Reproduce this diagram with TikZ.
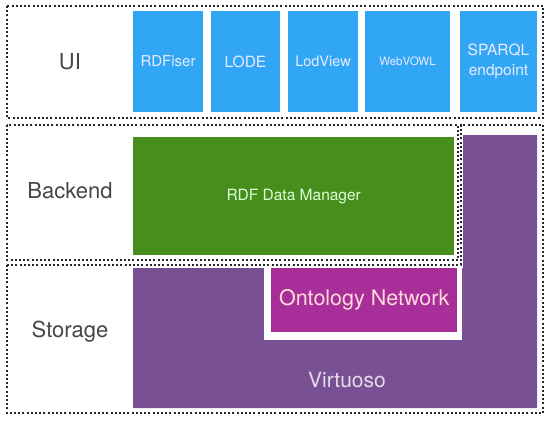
\documentclass[tikz,border=0pt]{standalone}
\usepackage{fontspec}
\setmainfont{TeX Gyre Heros}
\definecolor{uiblue}{RGB}{48,166,244}
\definecolor{bkgreen}{RGB}{72,142,28}
\definecolor{virt}{RGB}{122,80,148}
\definecolor{onto}{RGB}{168,46,154}
\definecolor{labgray}{RGB}{70,70,70}
\begin{document}
\begin{tikzpicture}[x=1pt,y=-1pt,
  layer/.style={draw=black!85,line width=1.5pt,dash pattern=on 2pt off 2.2pt},
  bluebox/.style={fill=uiblue,anchor=north west,inner sep=0pt,outer sep=0pt,text=blue!8!white,align=center},
  lab/.style={text=labgray,font=\fontsize{22}{24}\selectfont}]
\useasboundingbox (0,0) rectangle (550,421);
% UI components
\node[bluebox,minimum width=70,minimum height=101,font=\fontsize{15}{18}\selectfont] (rdfiser) at (133,11) {RDFiser};
\node[bluebox,minimum width=69,minimum height=101,font=\fontsize{15.5}{18}\selectfont] (lode) at (211,11) {LODE};
\node[bluebox,minimum width=70,minimum height=101,font=\fontsize{14.5}{18}\selectfont] (lodview) at (288,11) {LodView};
\node[bluebox,minimum width=85,minimum height=101,font=\fontsize{11.5}{14}\selectfont] (webvowl) at (365,11) {WebVOWL};
\node[bluebox,minimum width=77,minimum height=101,font=\fontsize{15.5}{20}\selectfont] (sparql) at (460,11) {SPARQL\\endpoint};
% Backend
\node[fill=bkgreen,anchor=north west,inner sep=0pt,minimum width=321,minimum height=118,text=green!15!white,font=\fontsize{15.5}{18}\selectfont] (rdfdm) at (133,137) {RDF Data Manager};
% Storage
\fill[virt] (133,268) -- (463,268) -- (463,135) -- (537,135) -- (537,408) -- (133,408) -- cycle;
\fill[white] (264,261) rectangle (462,340);
\node[fill=onto,anchor=north west,inner sep=0pt,minimum width=186,minimum height=64,text=pink!60!white,font=\fontsize{21.5}{24}\selectfont] (ontonet) at (271,268) {Ontology Network};
\node[text=virt!20!white,font=\fontsize{21}{24}\selectfont] (virtuoso) at (347,380) {Virtuoso};
% Layers
\draw[layer] (7,6) rectangle (543,118);
\draw[layer] (7,125) rectangle (458,260);
\draw[layer] (7,265) -- (461,265) -- (461,125) -- (543,125) -- (543,413) -- (7,413) -- cycle;
\node[lab] (uil) at (70,62) {UI};
\node[lab] (bel) at (70,191) {Backend};
\node[lab] (stl) at (70,332) {Storage};
\end{tikzpicture}
\end{document}
